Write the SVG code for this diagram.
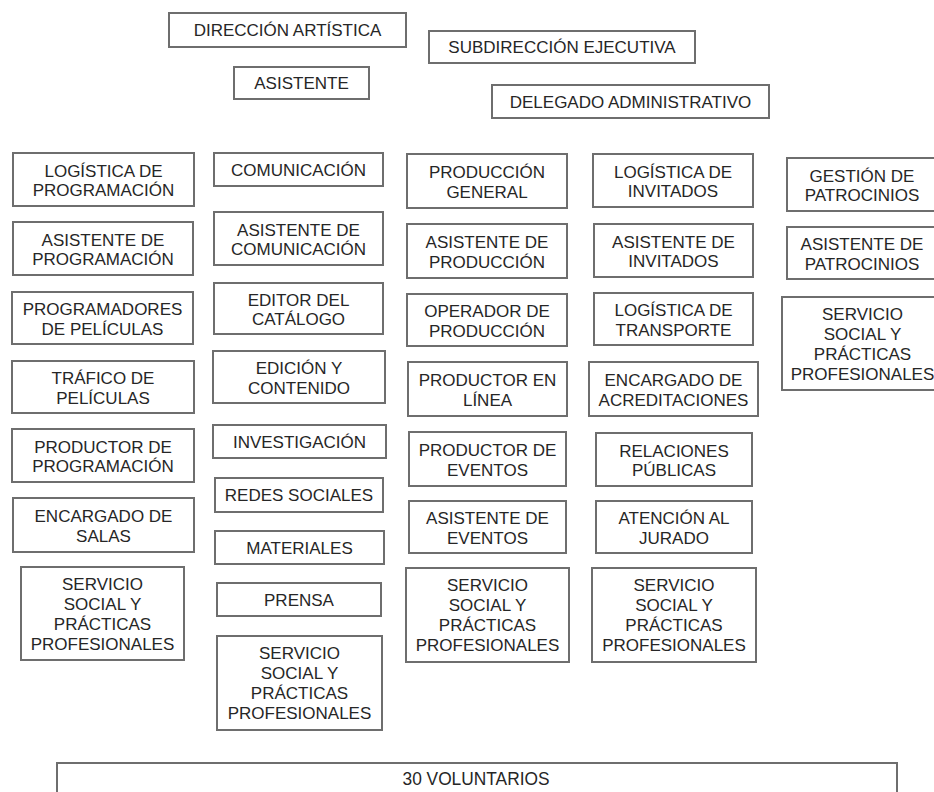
<svg xmlns="http://www.w3.org/2000/svg" width="934" height="792" viewBox="0 0 934 792">
<style>
.b{fill:#fff;stroke:#6e6e6e;stroke-width:2}
.t{font-family:"Liberation Sans",Arial,sans-serif;font-size:17px;fill:#262626;text-anchor:middle}
.v{font-family:"Liberation Sans",Arial,sans-serif;font-size:17.5px;fill:#262626;text-anchor:middle}
</style>
<rect width="934" height="792" fill="#fff"/>
<g id="connectors"></g>
<!-- top -->
<g id="dir"><rect class="b" x="169" y="13" width="237" height="34"/><text class="t" x="287.5" y="36">DIRECCIÓN ARTÍSTICA</text></g>
<g id="sub"><rect class="b" x="429" y="31" width="266" height="32"/><text class="t" x="562" y="53">SUBDIRECCIÓN EJECUTIVA</text></g>
<g id="asis"><rect class="b" x="234" y="67" width="135" height="32"/><text class="t" x="301.5" y="89">ASISTENTE</text></g>
<g id="del"><rect class="b" x="492" y="85" width="277" height="33"/><text class="t" x="630.5" y="107.5">DELEGADO ADMINISTRATIVO</text></g>
<!-- col1 -->
<g id="c1a"><rect class="b" x="13" y="153" width="181" height="53"/><text class="t" x="103.5" y="176.5">LOGÍSTICA DE<tspan x="103.5" dy="19.5">PROGRAMACIÓN</tspan></text></g>
<g id="c1b"><rect class="b" x="13" y="222" width="180" height="53"/><text class="t" x="103" y="245.5">ASISTENTE DE<tspan x="103" dy="19.5">PROGRAMACIÓN</tspan></text></g>
<g id="c1c"><rect class="b" x="12" y="292" width="181" height="52"/><text class="t" x="102.5" y="315">PROGRAMADORES<tspan x="102.5" dy="19.5">DE PELÍCULAS</tspan></text></g>
<g id="c1d"><rect class="b" x="12" y="361" width="182" height="52"/><text class="t" x="103" y="384">TRÁFICO DE<tspan x="103" dy="19.5">PELÍCULAS</tspan></text></g>
<g id="c1e"><rect class="b" x="12" y="429" width="182" height="53"/><text class="t" x="103" y="452.5">PRODUCTOR DE<tspan x="103" dy="19.5">PROGRAMACIÓN</tspan></text></g>
<g id="c1f"><rect class="b" x="13" y="498" width="181" height="54"/><text class="t" x="103.5" y="522">ENCARGADO DE<tspan x="103.5" dy="19.5">SALAS</tspan></text></g>
<g id="c1g"><rect class="b" x="21" y="567" width="163" height="93"/><text class="t" x="102.5" y="590">SERVICIO<tspan x="102.5" dy="20">SOCIAL Y</tspan><tspan x="102.5" dy="20">PRÁCTICAS</tspan><tspan x="102.5" dy="20">PROFESIONALES</tspan></text></g>
<!-- col2 -->
<g id="c2a"><rect class="b" x="214" y="153" width="169" height="33"/><text class="t" x="298.5" y="175.5">COMUNICACIÓN</text></g>
<g id="c2b"><rect class="b" x="214" y="212" width="169" height="53"/><text class="t" x="298.5" y="235.5">ASISTENTE DE<tspan x="298.5" dy="19.5">COMUNICACIÓN</tspan></text></g>
<g id="c2c"><rect class="b" x="214" y="283" width="169" height="51"/><text class="t" x="298.5" y="305.5">EDITOR DEL<tspan x="298.5" dy="19.5">CATÁLOGO</tspan></text></g>
<g id="c2d"><rect class="b" x="213" y="351" width="172" height="52"/><text class="t" x="299" y="374">EDICIÓN Y<tspan x="299" dy="19.5">CONTENIDO</tspan></text></g>
<g id="c2e"><rect class="b" x="213" y="425" width="173" height="33"/><text class="t" x="299.5" y="447.5">INVESTIGACIÓN</text></g>
<g id="c2f"><rect class="b" x="215" y="478" width="168" height="34"/><text class="t" x="299" y="501">REDES SOCIALES</text></g>
<g id="c2g"><rect class="b" x="215" y="531" width="169" height="33"/><text class="t" x="299.5" y="553.5">MATERIALES</text></g>
<g id="c2h"><rect class="b" x="217" y="583" width="164" height="33"/><text class="t" x="299" y="605.5">PRENSA</text></g>
<g id="c2i"><rect class="b" x="217" y="636" width="165" height="94"/><text class="t" x="299.5" y="659">SERVICIO<tspan x="299.5" dy="20">SOCIAL Y</tspan><tspan x="299.5" dy="20">PRÁCTICAS</tspan><tspan x="299.5" dy="20">PROFESIONALES</tspan></text></g>
<!-- col3 -->
<g id="c3a"><rect class="b" x="407" y="154" width="160" height="54"/><text class="t" x="487" y="178">PRODUCCIÓN<tspan x="487" dy="19.5">GENERAL</tspan></text></g>
<g id="c3b"><rect class="b" x="407" y="224" width="160" height="54"/><text class="t" x="487" y="248">ASISTENTE DE<tspan x="487" dy="19.5">PRODUCCIÓN</tspan></text></g>
<g id="c3c"><rect class="b" x="407" y="294" width="160" height="52"/><text class="t" x="487" y="317">OPERADOR DE<tspan x="487" dy="19.5">PRODUCCIÓN</tspan></text></g>
<g id="c3d"><rect class="b" x="408" y="362" width="159" height="54"/><text class="t" x="487.5" y="386">PRODUCTOR EN<tspan x="487.5" dy="19.5">LÍNEA</tspan></text></g>
<g id="c3e"><rect class="b" x="409" y="432" width="157" height="54"/><text class="t" x="487.5" y="456">PRODUCTOR DE<tspan x="487.5" dy="19.5">EVENTOS</tspan></text></g>
<g id="c3f"><rect class="b" x="409" y="501" width="157" height="52"/><text class="t" x="487.5" y="524">ASISTENTE DE<tspan x="487.5" dy="19.5">EVENTOS</tspan></text></g>
<g id="c3g"><rect class="b" x="406" y="568" width="163" height="94"/><text class="t" x="487.5" y="591">SERVICIO<tspan x="487.5" dy="20">SOCIAL Y</tspan><tspan x="487.5" dy="20">PRÁCTICAS</tspan><tspan x="487.5" dy="20">PROFESIONALES</tspan></text></g>
<!-- col4 -->
<g id="c4a"><rect class="b" x="593" y="154" width="160" height="53"/><text class="t" x="673" y="177.5">LOGÍSTICA DE<tspan x="673" dy="19.5">INVITADOS</tspan></text></g>
<g id="c4b"><rect class="b" x="594" y="224" width="159" height="53"/><text class="t" x="673.5" y="247.5">ASISTENTE DE<tspan x="673.5" dy="19.5">INVITADOS</tspan></text></g>
<g id="c4c"><rect class="b" x="594" y="293" width="159" height="52"/><text class="t" x="673.5" y="316">LOGÍSTICA DE<tspan x="673.5" dy="19.5">TRANSPORTE</tspan></text></g>
<g id="c4d"><rect class="b" x="589" y="362" width="169" height="54"/><text class="t" x="673.5" y="386">ENCARGADO DE<tspan x="673.5" dy="19.5">ACREDITACIONES</tspan></text></g>
<g id="c4e"><rect class="b" x="596" y="433" width="156" height="53"/><text class="t" x="674" y="456.5">RELACIONES<tspan x="674" dy="19.5">PÚBLICAS</tspan></text></g>
<g id="c4f"><rect class="b" x="596" y="501" width="156" height="52"/><text class="t" x="674" y="524">ATENCIÓN AL<tspan x="674" dy="19.5">JURADO</tspan></text></g>
<g id="c4g"><rect class="b" x="592" y="568" width="164" height="94"/><text class="t" x="674" y="591">SERVICIO<tspan x="674" dy="20">SOCIAL Y</tspan><tspan x="674" dy="20">PRÁCTICAS</tspan><tspan x="674" dy="20">PROFESIONALES</tspan></text></g>
<!-- col5 -->
<g id="c5a"><rect class="b" x="787" y="158" width="151" height="53"/><text class="t" x="862" y="181.5">GESTIÓN DE<tspan x="862" dy="19.5">PATROCINIOS</tspan></text></g>
<g id="c5b"><rect class="b" x="787" y="227" width="151" height="52"/><text class="t" x="862" y="250">ASISTENTE DE<tspan x="862" dy="19.5">PATROCINIOS</tspan></text></g>
<g id="c5c"><rect class="b" x="782" y="297" width="161" height="93"/><text class="t" x="862.5" y="320">SERVICIO<tspan x="862.5" dy="20">SOCIAL Y</tspan><tspan x="862.5" dy="20">PRÁCTICAS</tspan><tspan x="862.5" dy="20">PROFESIONALES</tspan></text></g>
<!-- bottom -->
<g id="vol"><rect class="b" x="57" y="763" width="840" height="40"/><text class="v" x="476" y="785" textLength="147" lengthAdjust="spacingAndGlyphs">30 VOLUNTARIOS</text></g>
</svg>
